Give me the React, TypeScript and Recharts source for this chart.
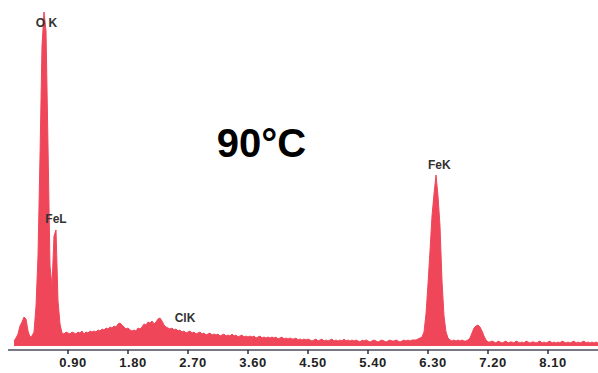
import React from 'react';
import { AreaChart, Area, XAxis, YAxis, ReferenceDot } from 'recharts';

// EDS spectrum channels: first channel energy and channel width (keV)
const START_KEV = 0.09;
const CHANNEL_KEV = 0.03;

// counts per channel (arbitrary units)
const counts: number[] = [
  5, 8, 12, 20, 24, 29, 27, 15, 9, 10,
  14, 40, 90, 190, 300, 334, 315, 200, 80, 60,
  110, 116, 45, 22, 13, 12, 14, 13, 12, 14,
  13, 12, 14, 13, 15, 12, 14, 13, 15, 14,
  15, 14, 16, 15, 17, 16, 18, 17, 19, 18,
  20, 19, 22, 23, 21, 19, 17, 18, 16, 15,
  16, 15, 18, 17, 19, 22, 21, 24, 23, 25,
  22, 24, 27, 28, 25, 21, 19, 18, 17, 18,
  16, 17, 15, 16, 14, 15, 13, 14, 15, 13,
  14, 12, 13, 14, 12, 13, 11, 12, 13, 11,
  12, 11, 12, 10, 11, 12, 10, 11, 10, 12,
  10, 11, 9, 10, 11, 9, 10, 9, 10, 9,
  10, 8, 9, 10, 8, 9, 8, 9, 8, 9,
  8, 9, 7, 8, 9, 7, 8, 7, 8, 7,
  7, 8, 6, 7, 6, 7, 6, 7, 6, 5,
  6, 7, 5, 6, 7, 5, 6, 5, 6, 7,
  5, 6, 5, 6, 5, 7, 5, 6, 5, 6,
  5, 6, 5, 4, 6, 5, 6, 5, 4, 5,
  6, 5, 4, 5, 6, 5, 4, 5, 6, 5,
  5, 6, 5, 4, 5, 6, 5, 6, 5, 6,
  6, 6, 7, 8, 9, 14, 32, 62, 95, 130,
  152, 171, 150, 120, 65, 30, 14, 8, 6, 5,
  6, 5, 6, 5, 6, 5, 5, 6, 8, 13,
  18, 20, 21, 19, 15, 10, 6, 4, 4, 5,
  4, 3, 5, 4, 3, 4, 5, 3, 4, 4,
  3, 5, 4, 3, 4, 3, 5, 4, 3, 4,
  4, 3, 4, 5, 3, 4, 3, 4, 5, 3,
  4, 3, 4, 3, 5, 4, 3, 4, 3, 4,
  5, 3, 4, 3, 4, 5, 3, 4, 3, 4, 3, 4, 3,
];

const xTicks: number[] = [0.9, 1.8, 2.7, 3.6, 4.5, 5.4, 6.3, 7.2, 8.1];

// peak annotations: text, energy (keV), count level of text baseline
const peakLabels = [
  { text: 'O K', e: 0.578, c: 319 },
  { text: 'FeL', e: 0.72, c: 123 },
  { text: 'FeK', e: 6.47, c: 177 },
  { text: 'ClK', e: 2.655, c: 24 },
];
const titleLabel = { text: '90°C', e: 3.8, c: 189 };

const data = counts.map((c, i) => ({ e: +(START_KEV + i * CHANNEL_KEV).toFixed(2), c }));

const RED = '#ef4759';

export default function App() {
  return (
    <div style={{ position: 'absolute', left: 0, top: 0 }}>
      <AreaChart
        width={598}
        height={373}
        data={data}
        margin={{ top: 10, right: 0, bottom: 0, left: 8 }}
      >
        <XAxis
          dataKey="e"
          type="number"
          domain={[0, 8.85]}
          allowDataOverflow
          ticks={xTicks}
          tickFormatter={(v: number) => v.toFixed(2)}
          height={23}
          tickSize={4}
          tickMargin={4}
          axisLine={{ stroke: '#4a4d5c', strokeWidth: 1.5 }}
          tickLine={{ stroke: '#2a2d3a', strokeWidth: 1.5 }}
          tick={{
            fill: '#222',
            fontSize: 13,
            fontWeight: 'bold',
            fontFamily: 'Liberation Sans, Arial, sans-serif',
            letterSpacing: 0.5,
            dx: 5,
          }}
        />
        <YAxis hide domain={[-4, 336]} allowDataOverflow />
        <Area
          type="linear"
          dataKey="c"
          baseValue={0}
          stroke={RED}
          strokeWidth={1}
          fill={RED}
          fillOpacity={1}
          dot={false}
          activeDot={false}
          isAnimationActive={false}
        />
        {peakLabels.map((p) => (
          <ReferenceDot
            key={p.text}
            x={p.e}
            y={p.c}
            r={1}
            ifOverflow="visible"
            shape={(props: any) => (
              <text
                x={props.cx}
                y={props.cy}
                textAnchor="middle"
                fontFamily="Liberation Sans, Arial, sans-serif"
                fontWeight="bold"
                fontSize={12}
                fill="#333"
              >
                {p.text}
              </text>
            )}
          />
        ))}
        <ReferenceDot
          x={titleLabel.e}
          y={titleLabel.c}
          r={1}
          ifOverflow="visible"
          shape={(props: any) => (
            <text
              x={props.cx}
              y={props.cy}
              textAnchor="middle"
              fontFamily="Liberation Sans, Arial, sans-serif"
              fontWeight="bold"
              fontSize={40}
              fill="#000"
            >
              {titleLabel.text}
            </text>
          )}
        />
      </AreaChart>
    </div>
  );
}
